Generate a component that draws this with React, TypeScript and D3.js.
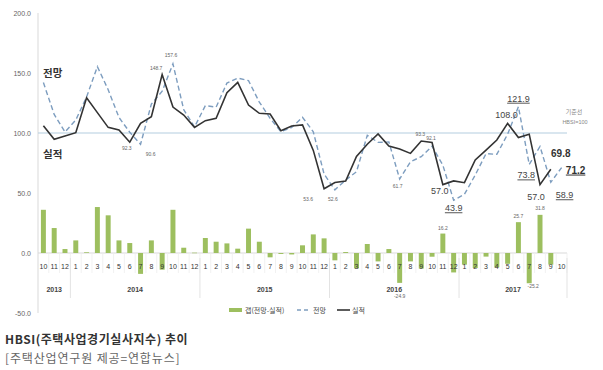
import React from "react";
import * as d3 from "d3";

const monthLabels = [
  "10", "11", "12",
  "1", "2", "3", "4", "5", "6", "7", "8", "9", "10", "11", "12",
  "1", "2", "3", "4", "5", "6", "7", "8", "9", "10", "11", "12",
  "1", "2", "3", "4", "5", "6", "7", "8", "9", "10", "11", "12",
  "1", "2", "3", "4", "5", "6", "7", "8", "9", "10",
];
const yearLabels = ["2013", "2014", "2015", "2016", "2017"];
const yearSpans = [3, 12, 12, 12, 10];

const actual: (number | null)[] = [
  106.0, 94.7, 97.5,
  100.3, 129.4, 117.0, 104.7, 102.5, 92.3, 108.0, 113.6, 148.7, 121.6, 115.0, 104.7,
  110.3, 112.2, 133.6, 142.2, 123.3, 116.4, 115.8, 101.9, 105.8, 106.7, 85.5, 53.6,
  58.7, 60.0, 80.5, 90.6, 99.2, 89.2, 86.6, 83.0, 93.3, 92.1, 57.0, 60.1,
  58.6, 77.5, 85.8, 94.2, 108.0, 96.2, 99.0, 57.0, 69.8, null,
];
const forecast: number[] = [
  142.0, 115.5, 100.8,
  110.8, 130.0, 155.3, 136.1, 113.0, 100.6, 90.6, 124.1, 134.8, 157.6, 119.4, 105.0,
  122.8, 121.6, 141.6, 145.8, 143.6, 125.8, 112.2, 101.1, 104.6, 113.1, 101.0, 65.8,
  52.6, 60.8, 67.7, 98.1, 92.2, 92.5, 61.7, 76.0, 80.3, 89.0, 73.2, 43.9,
  48.9, 65.0, 82.8, 82.2, 99.0, 121.9, 73.8, 88.8, 58.9, 71.2,
];
const gap: (number | null)[] = [
  36.0, 20.8, 3.3,
  10.5, 0.6, 38.3, 31.4, 10.5, 8.3, -17.4, 10.5, -13.9, 36.0, 4.4, 0.3,
  12.5, 9.4, 8.0, 3.6, 20.3, 9.4, -3.6, -0.8, -1.2, 6.4, 15.5, 12.2,
  -6.1, 0.8, -12.8, 7.5, -7.0, 3.3, -24.9, -7.0, -13.0, -3.1, 16.2, -16.2,
  -9.7, -12.5, -3.0, -12.0, -9.0, 25.7, -25.2, 31.8, -9.7, null,
];
const yTicks = [200, 150, 100, 50, 0, -50];

// small annotation labels: [index, series value, text, dx, dy]
const smallLabels: [number, number, string, number, number][] = [
  [11, 148.7, "148.7", -6, -5],
  [12, 157.6, "157.6", -2, -7],
  [8, 92.3, "92.3", -3, 8],
  [9, 90.6, "90.6", 10, 12],
  [26, 53.6, "53.6", -16, 12],
  [27, 52.6, "52.6", -2, 11],
  [33, 61.7, "61.7", -2, 9],
  [35, 93.3, "93.3", -1, -5],
  [36, 92.1, "92.1", -1, -2],
  [37, 16.2, "16.2", 0, -4],
  [44, 25.7, "25.7", 0, -4],
  [46, 31.8, "31.8", 0, -5],
  [33, -24.9, "-24.9", 0, 15],
  [45, -25.2, "-25.2", 4, 5],
];

// big annotation labels: [index, value, text, dx, dy, bold, underline]
const bigLabels: [number, number, string, number, number, boolean, boolean][] = [
  [43, 108.0, "108.0", -1, -5, false, false],
  [44, 121.9, "121.9", 0, -5, false, true],
  [45, 73.8, "73.8", -3, 14, false, true],
  [46, 57.0, "57.0", -4, 15, false, false],
  [48, 58.9, "58.9", 3, 16, false, true],
  [37, 57.0, "57.0", -3, 9, false, false],
  [38, 43.9, "43.9", 0, 11, false, true],
  [47, 69.8, "69.8", 10, -12, true, false],
  [48, 71.2, "71.2", 14, 6, true, true],
];

const FONT = "'Liberation Sans', 'Noto Sans CJK KR', sans-serif";
const KFONT = "'Noto Sans CJK KR', sans-serif";

export default function App() {
  const W = 603, H = 370;
  const left = 38, right = 567;
  const idx = monthLabels.map((_, i) => i);
  const x = d3.scaleBand<number>().domain(idx).range([left, right]).padding(0);
  const bw = x.bandwidth();
  const cx = (i: number) => (x(i) as number) + bw / 2;
  const y = d3.scaleLinear().domain([-50, 200]).range([313, 13]);

  const lineA = d3
    .line<number | null>()
    .defined((d) => d != null)
    .x((_, i) => cx(i))
    .y((d) => y(d as number));
  const lineF = d3
    .line<number>()
    .x((_, i) => cx(i))
    .y((d) => y(d));

  const barW = bw * 0.46;

  let acc = 0;
  const groups = yearSpans.map((n, k) => {
    const start = acc;
    acc += n;
    return { label: yearLabels[k], start, end: acc - 1 };
  });

  return (
    <svg
      width={W}
      height={H}
      style={{ position: "absolute", left: 0, top: 0, background: "#fff" }}
    >
      {/* y axis */}
      <line x1={left} x2={left} y1={y(200)} y2={y(-50)} stroke="#d9d9d9" strokeWidth={1} />
      {yTicks.map((t) => (
        <text key={t} x={31} y={y(t) + 2.5} textAnchor="end" fontSize={7} fill="#666" fontFamily={FONT}>
          {t.toFixed(1)}
        </text>
      ))}
      <line x1={left} x2={right} y1={y(0)} y2={y(0)} stroke="#d9d9d9" strokeWidth={1} />
      {idx.map((i) => (
        <line
          key={"t" + i}
          x1={(x(i) as number) + bw}
          x2={(x(i) as number) + bw}
          y1={y(0)}
          y2={y(0) + 20}
          stroke="#eeeeee"
          strokeWidth={0.8}
        />
      ))}
      {groups.map((g, k) => (
        <line
          key={"s" + k}
          x1={(x(g.end) as number) + bw}
          x2={(x(g.end) as number) + bw}
          y1={y(0) + 5}
          y2={298}
          stroke="#e3e3e3"
          strokeWidth={1}
        />
      ))}
      {/* reference line 100 */}
      <line x1={left} x2={right} y1={y(100)} y2={y(100)} stroke="#b4cde0" strokeWidth={1.2} />
      <text x={574} y={114} textAnchor="middle" fontSize={6} fill="#888" fontFamily={KFONT}>
        기준선
      </text>
      <text x={575} y={124} textAnchor="middle" fontSize={5.5} fill="#888" fontFamily={FONT}>
        HBSI=100
      </text>

      {/* gap bars */}
      {gap.map((g, i) =>
        g == null ? null : (
          <rect
            key={"b" + i}
            x={cx(i) - barW / 2}
            width={barW}
            y={Math.min(y(g), y(0))}
            height={Math.max(0.6, Math.abs(y(g) - y(0)))}
            fill="#9dbf5f"
          />
        )
      )}

      {monthLabels.map((m, i) => (
        <text key={"m" + i} x={cx(i)} y={269} textAnchor="middle" fontSize={7} fill="#333" fontFamily={FONT}>
          {m}
        </text>
      ))}
      {groups.map((g) => (
        <text
          key={g.label}
          x={(cx(g.start) + cx(g.end)) / 2}
          y={292}
          textAnchor="middle"
          fontSize={7}
          fontWeight="bold"
          fill="#444"
          fontFamily={FONT}
        >
          {g.label}
        </text>
      ))}

      {/* lines */}
      <path d={lineF(forecast) || ""} fill="none" stroke="#7d9dbf" strokeWidth={1.4} strokeDasharray="5,3" />
      <path d={lineA(actual) || ""} fill="none" stroke="#333" strokeWidth={1.6} />

      {smallLabels.map(([i, v, t, dx, dy], k) => (
        <text key={"sl" + k} x={cx(i) + dx} y={y(v) + dy} textAnchor="middle" fontSize={5} fill="#666" fontFamily={FONT}>
          {t}
        </text>
      ))}

      <text x={43} y={77} fontSize={10.5} fontWeight="bold" fill="#333" fontFamily={KFONT}>
        전망
      </text>
      <text x={43} y={158} fontSize={10.5} fontWeight="bold" fill="#333" fontFamily={KFONT}>
        실적
      </text>

      {bigLabels.map(([i, v, t, dx, dy, bold, ul], k) => (
        <text
          key={"bl" + k}
          x={cx(i) + dx}
          y={y(v) + dy}
          textAnchor="middle"
          fontSize={bold ? 10 : 9}
          fontWeight={bold ? "bold" : "normal"}
          fill={bold ? "#333" : "#444"}
          fontFamily={FONT}
          style={ul ? { textDecoration: "underline" } : undefined}
        >
          {t}
        </text>
      ))}

      {/* legend */}
      <rect x={229} y={308} width={13} height={4} fill="#9dbf5f" />
      <text x={245} y={312.5} fontSize={7} fill="#444" fontFamily={KFONT}>
        갭(전망-실적)
      </text>
      <line x1={297} x2={310} y1={310} y2={310} stroke="#7d9dbf" strokeWidth={1.4} strokeDasharray="4,3" />
      <text x={313} y={312.5} fontSize={7} fill="#444" fontFamily={KFONT}>
        전망
      </text>
      <line x1={337} x2={350} y1={310} y2={310} stroke="#333" strokeWidth={1.6} />
      <text x={352} y={312.5} fontSize={7} fill="#444" fontFamily={KFONT}>
        실적
      </text>

      {/* title */}
      <text x={5} y={344} fontSize={12} letterSpacing={0.55} fontWeight="bold" fill="#333" fontFamily={KFONT}>
        HBSI(주택사업경기실사지수) 추이
      </text>
      <text x={5} y={363} fontSize={12} letterSpacing={0.85} fill="#666" fontFamily={KFONT}>
        [주택산업연구원 제공=연합뉴스]
      </text>
    </svg>
  );
}
